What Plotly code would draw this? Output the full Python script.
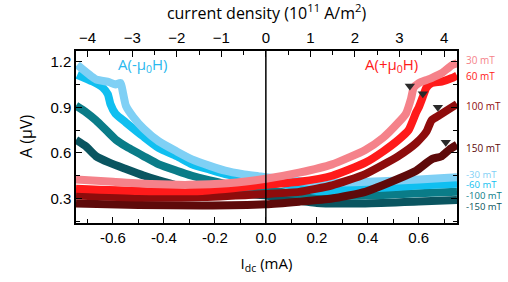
import plotly.graph_objects as go

# Field labels and colours
fields = ["30 mT", "60 mT", "100 mT", "150 mT", "-30 mT", "-60 mT", "-100 mT", "-150 mT"]
colors = ["#f5828a", "#ff1a1a", "#8e0c0c", "#5e0a0a", "#7fd0f5", "#10bff0", "#0a7c88", "#0a5560"]

# I_dc (mA) sample positions and A (uV)
x_p30 = [-0.745, -0.6, -0.45, -0.3, -0.15, 0.0, 0.13, 0.26, 0.39, 0.46, 0.52, 0.55, 0.57, 0.58, 0.60, 0.63, 0.65, 0.69, 0.73, 0.75]
y_p30 = [0.425, 0.41, 0.395, 0.39, 0.40, 0.43, 0.47, 0.525, 0.62, 0.70, 0.80, 0.86, 0.96, 1.03, 1.06, 1.08, 1.093, 1.125, 1.178, 1.19]

x_p60 = [-0.745, -0.5, -0.25, 0.0, 0.13, 0.26, 0.39, 0.46, 0.52, 0.56, 0.59, 0.60, 0.615, 0.63, 0.65, 0.69, 0.73, 0.75]
y_p60 = [0.365, 0.35, 0.35, 0.39, 0.41, 0.45, 0.536, 0.61, 0.686, 0.75, 0.868, 0.90, 0.965, 1.03, 1.06, 1.07, 1.093, 1.11]

x_p100 = [-0.745, -0.5, -0.25, 0.0, 0.13, 0.26, 0.39, 0.52, 0.59, 0.63, 0.65, 0.68, 0.72, 0.75]
y_p100 = [0.32, 0.307, 0.31, 0.33, 0.344, 0.387, 0.461, 0.579, 0.665, 0.74, 0.815, 0.847, 0.89, 0.922]

x_p150 = [-0.745, -0.5, -0.25, 0.0, 0.13, 0.26, 0.39, 0.52, 0.59, 0.65, 0.69, 0.72, 0.75]
y_p150 = [0.268, 0.258, 0.254, 0.262, 0.279, 0.30, 0.344, 0.43, 0.483, 0.558, 0.579, 0.622, 0.654]

x_m30 = [-0.74, -0.667, -0.616, -0.59, -0.57, -0.56, -0.549, -0.52, -0.48, -0.42, -0.35, -0.29, -0.22, -0.16, -0.09, -0.03, 0.0, 0.2, 0.4, 0.6, 0.75]
y_m30 = [1.18, 1.085, 1.067, 1.05, 1.06, 0.99, 0.91, 0.836, 0.76, 0.676, 0.61, 0.558, 0.515, 0.483, 0.46, 0.447, 0.44, 0.405, 0.41, 0.425, 0.44]

x_m60 = [-0.74, -0.68, -0.64, -0.62, -0.61, -0.59, -0.549, -0.48, -0.42, -0.35, -0.29, -0.22, -0.16, -0.09, 0.0, 0.2, 0.39, 0.6, 0.75]
y_m60 = [1.114, 1.07, 1.03, 0.986, 0.922, 0.858, 0.80, 0.707, 0.632, 0.579, 0.525, 0.49, 0.461, 0.44, 0.425, 0.35, 0.365, 0.385, 0.397]

x_m100 = [-0.745, -0.706, -0.667, -0.627, -0.588, -0.549, -0.48, -0.42, -0.35, -0.29, -0.22, -0.16, -0.09, 0.0, 0.2, 0.39, 0.6, 0.75]
y_m100 = [0.911, 0.868, 0.815, 0.75, 0.686, 0.643, 0.579, 0.525, 0.483, 0.45, 0.419, 0.397, 0.376, 0.355, 0.32, 0.32, 0.335, 0.344]

x_m150 = [-0.745, -0.706, -0.667, -0.614, -0.549, -0.48, -0.42, -0.35, -0.22, 0.0, 0.2, 0.39, 0.6, 0.75]
y_m150 = [0.686, 0.643, 0.579, 0.536, 0.494, 0.451, 0.419, 0.387, 0.344, 0.32, 0.27, 0.268, 0.28, 0.29]

# Transition markers (triangles)
tri_x = [0.565, 0.616, 0.675, 0.706]
tri_y = [1.04, 0.99, 0.90, 0.67]

# Right-hand label positions (A values)
label_y = [1.215, 1.105, 0.91, 0.635, 0.46, 0.39, 0.32, 0.25]

# Top axis conversion: 1 mA -> 5.72 x 10^11 A/m^2
conv = 5.72
x_range = [-0.745, 0.75]

series = [
    (x_p30, y_p30), (x_p60, y_p60), (x_p100, y_p100), (x_p150, y_p150),
    (x_m30, y_m30), (x_m60, y_m60), (x_m100, y_m100), (x_m150, y_m150),
]

fig = go.Figure()
# blues first, reds on top
order = [7, 6, 5, 4, 3, 2, 1, 0]
for i in order:
    xs, ys = series[i]
    fig.add_trace(go.Scatter(x=xs, y=ys, mode="lines", line=dict(color=colors[i], width=8, shape="spline", smoothing=0.5),
                             showlegend=False, hoverinfo="skip"))

fig.add_trace(go.Scatter(x=tri_x, y=tri_y, mode="markers",
                         marker=dict(symbol="triangle-down", size=9, color="#2a2a2a"), showlegend=False))

# invisible trace on top axis
fig.add_trace(go.Scatter(x=[x_range[0] * conv, x_range[1] * conv], y=[0.3, 0.3], xaxis="x2", mode="markers",
                         marker=dict(opacity=0), showlegend=False, hoverinfo="skip"))

# vertical zero line
fig.add_shape(type="line", x0=0, x1=0, y0=0, y1=1, xref="x", yref="paper", line=dict(color="black", width=1.5))

tickfont = dict(family="Liberation Sans, Arial", size=15, color="black")
fig.update_layout(
    width=508, height=282,
    margin=dict(l=76, r=51, t=49, b=57),
    plot_bgcolor="white", paper_bgcolor="white",
    xaxis=dict(range=x_range, tickvals=[-0.6, -0.4, -0.2, 0.0, 0.2, 0.4, 0.6],
               ticktext=["-0.6", "-0.4", "-0.2", "0.0", "0.2", "0.4", "0.6"],
               ticks="inside", ticklen=6, tickwidth=1.2, tickcolor="black",
               minor=dict(dtick=0.1, tick0=0, ticks="inside", ticklen=4, tickcolor="black"),
               showline=True, linecolor="black", linewidth=1.5, showgrid=False, zeroline=False,
               tickfont=tickfont,
               title=dict(text="I<sub>dc</sub> (mA)", font=dict(family="Open Sans", size=15, color="black"), standoff=14)),
    xaxis2=dict(range=[x_range[0] * conv, x_range[1] * conv], overlaying="x", side="top",
                tickvals=[-4, -3, -2, -1, 0, 1, 2, 3, 4], ticks="inside", ticklen=6, tickcolor="black",
                minor=dict(dtick=0.5, tick0=0, ticks="inside", ticklen=4, tickcolor="black"),
                showline=True, linecolor="black", linewidth=1.5, showgrid=False, zeroline=False,
                tickfont=tickfont,
                title=dict(text="current density (10<sup>11</sup> A/m<sup>2</sup>)",
                           font=dict(family="Open Sans", size=16, color="black"), standoff=6)),
    yaxis=dict(range=[0.139, 1.271], tickvals=[0.3, 0.6, 0.9, 1.2], ticktext=["0.3", "0.6", "0.9", "1.2"],
               ticks="inside", ticklen=6, tickcolor="black",
               minor=dict(dtick=0.15, tick0=0, ticks="inside", ticklen=4, tickcolor="black"),
               showline=True, linecolor="black", linewidth=1.5, mirror="ticks", showgrid=False, zeroline=False,
               tickfont=tickfont),
)

annotations = []
for i, lab in enumerate(fields):
    annotations.append(dict(x=1.0, xref="paper", y=label_y[i], yref="y", text=lab, showarrow=False,
                            xanchor="left", xshift=8, borderpad=0,
                            font=dict(family="Open Sans", size=9.5 if i >= 4 else 10, color=colors[i])))
annotations.append(dict(x=-0.59, y=1.18, xref="x", yref="y", text="A(-μ<sub>0</sub>H)", showarrow=False,
                        xanchor="left", font=dict(family="Open Sans", size=15, color="#2ab8ee")))
annotations.append(dict(x=0.38, y=1.18, xref="x", yref="y", text="A(+μ<sub>0</sub>H)", showarrow=False,
                        xanchor="left", font=dict(family="Open Sans", size=15, color="#ff1a1a")))
# y-axis title placed close to the tick labels, as in the reference
annotations.append(dict(x=0, xref="paper", xshift=-50, xanchor="center", y=0.5, yref="paper", text="A (μV)",
                        textangle=-90, showarrow=False, font=dict(family="Open Sans", size=16, color="black")))
fig.update_layout(annotations=annotations)

fig.write_html("out.html")
